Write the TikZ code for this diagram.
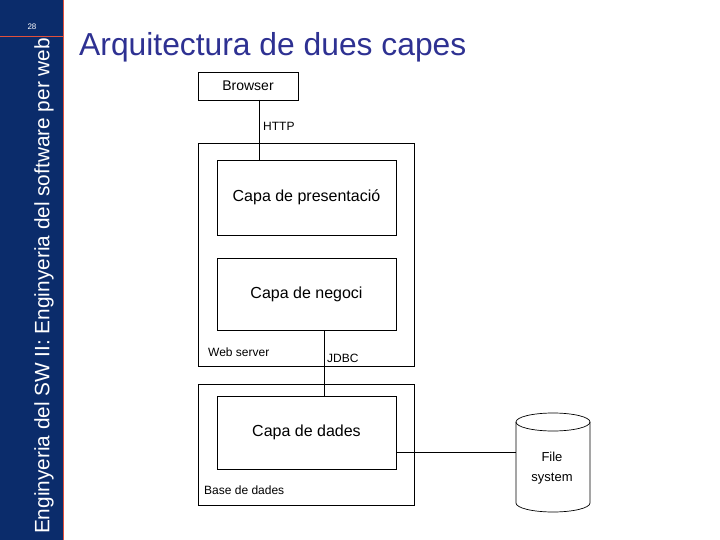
\documentclass[tikz,border=0pt]{standalone}
\usepackage{fontspec}
\setmainfont{Liberation Sans}
\definecolor{barblue}{HTML}{0B2C6B}
\definecolor{titleblue}{HTML}{2E3192}
\definecolor{barred}{HTML}{E0503C}
\begin{document}
\begin{tikzpicture}[x=1pt,y=-1pt,
  box/.style={draw,line width=0.7pt,inner sep=0pt},
  lbl/.style={font=\fontsize{12}{14}\selectfont,anchor=west,inner sep=0pt},
  big/.style={font=\fontsize{16}{18}\selectfont}]
\useasboundingbox (0,0) rectangle (720,540);
\fill[barblue] (0,0) rectangle (63,540);
\draw[barred,line width=1.2pt] (63.5,0) -- (63.5,540);
\draw[barred,line width=0.8pt] (0,36) -- (63,36);
\node[text=white,font=\fontsize{8}{9}\selectfont] (pg) at (32,27) {28};
\node[text=white,rotate=90,font=\fontsize{20.8}{22}\selectfont] (side) at (44,286) {Enginyeria del SW II: Enginyeria del software per web};
\node[text=titleblue,anchor=west,font=\fontsize{31.8}{34}\selectfont,inner sep=0pt] (title) at (79,47) {Arquitectura de dues capes};
\draw[box] (198,143) rectangle (414,366);
\node[box,minimum width=100pt,minimum height=28pt,font=\fontsize{14}{16}\selectfont] (br) at (248,86) {Browser};
\node[box,minimum width=179pt,minimum height=75pt,big] (pres) at (306.5,197.5) {Capa de presentació};
\node[box,minimum width=179pt,minimum height=72pt,big] (neg) at (306.5,294) {Capa de negoci};
\draw[box] (198,384) rectangle (414,505);
\node[box,minimum width=179pt,minimum height=73pt,big] (dad) at (306.5,432.5) {Capa de dades};
\node[lbl] (http) at (263,126) {HTTP};
\node[lbl] (ws) at (208,352) {Web server};
\node[lbl] (jdbc) at (327,358) {JDBC};
\node[lbl] (bd) at (204,490) {Base de dades};
\draw[line width=0.7pt] (553,422) ellipse [x radius=37, y radius=9];
\draw[line width=0.7pt] (516,422) -- (516,503) arc[start angle=180,end angle=0,x radius=37,y radius=9] -- (590,422);
\coordinate (fsw) at (516,452);
\node[font=\fontsize{13}{20}\selectfont,align=center] (fst) at (552,468) {File\\system};
\draw[line width=0.7pt] (259,100) -- (259,160);
\draw[line width=0.7pt] (324,330) -- (324,396);
\draw[line width=0.7pt] (396,452) -- (fsw);
\end{tikzpicture}
\end{document}
